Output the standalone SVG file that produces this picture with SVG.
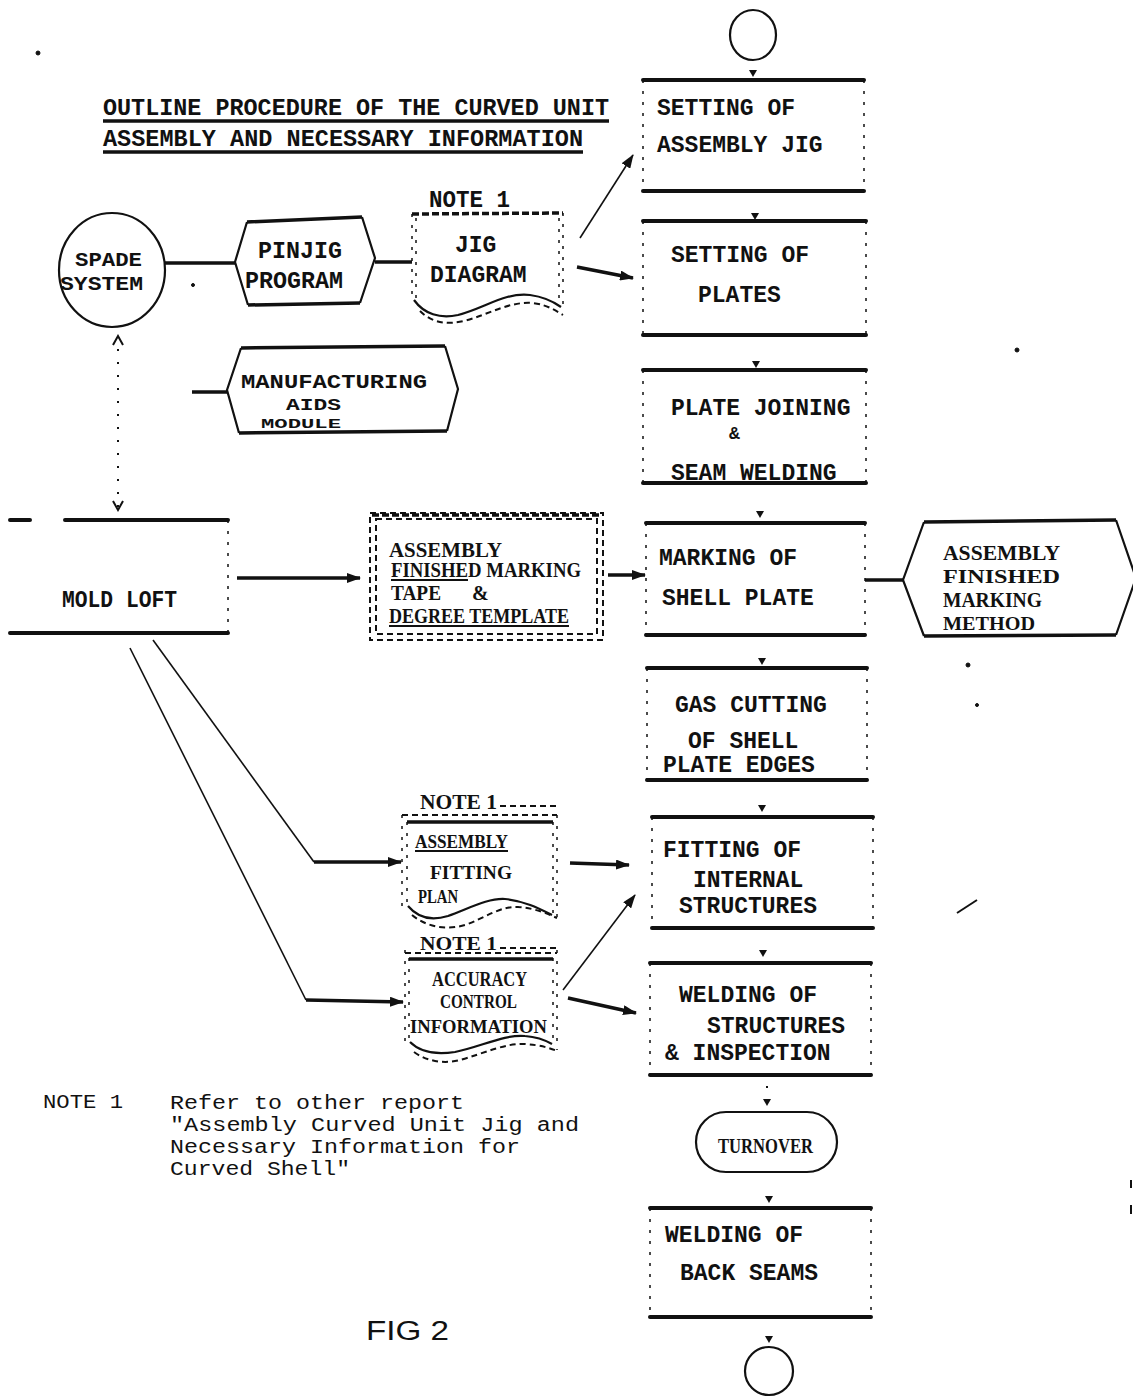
<svg xmlns="http://www.w3.org/2000/svg" width="1133" height="1397" viewBox="0 0 1133 1397">
<defs>
<style>
.tw{font-family:"Liberation Mono","Courier New",monospace;font-weight:bold;font-size:23px;fill:#111}
.sf{font-family:"Liberation Serif","Times New Roman",serif;font-weight:bold;font-size:20px;fill:#111}
.nt{font-family:"Liberation Mono","Courier New",monospace;font-size:20px;fill:#111}
.hw{font-family:"Liberation Sans",Arial,sans-serif;font-size:27px;fill:#111}
.hv{stroke:#111;stroke-width:4;fill:none;stroke-linecap:round}
.side{stroke:#111;stroke-width:1.5;fill:none;stroke-dasharray:3 8}
.thk{stroke:#111;stroke-width:3.5;fill:none}
.thn{stroke:#111;stroke-width:1.6;fill:none}
.med{stroke:#111;stroke-width:2.2;fill:none}
.dsh{stroke:#111;stroke-width:2;fill:none;stroke-dasharray:6 4}
.hdsh{stroke:#111;stroke-width:3.5;fill:none;stroke-dasharray:7 3}
.dot{stroke:#111;stroke-width:2;fill:none;stroke-dasharray:2 11}
.tick{fill:#111}
</style>
<marker id="ah" markerWidth="14" markerHeight="10" refX="13" refY="5" orient="auto" markerUnits="userSpaceOnUse"><path d="M0,0 L14,5 L0,10 z" fill="#111"/></marker>
<marker id="oh" markerWidth="12" markerHeight="12" refX="10" refY="6" orient="auto-start-reverse" markerUnits="userSpaceOnUse"><path d="M1,1 L10,6 L1,11" fill="none" stroke="#111" stroke-width="2"/></marker>
</defs>
<rect width="1133" height="1397" fill="#fff"/>

<g id="title">
<text class="tw" x="103" y="115" textLength="506" lengthAdjust="spacingAndGlyphs">OUTLINE PROCEDURE OF THE CURVED UNIT</text>
<text class="tw" x="103" y="146" textLength="480" lengthAdjust="spacingAndGlyphs">ASSEMBLY AND NECESSARY INFORMATION</text>
<line class="thk" x1="103" y1="121" x2="609" y2="121"/>
<line class="thk" x1="103" y1="152" x2="583" y2="152"/>
</g>

<g id="connectors">
<line class="thk" x1="165" y1="263" x2="235" y2="263"/>
<line class="thk" x1="375" y1="262" x2="412" y2="262"/>
<line class="thk" x1="192" y1="392" x2="227" y2="392"/>
<line class="thn" x1="580" y1="238" x2="633" y2="155" marker-end="url(#ah)"/>
<line class="thk" x1="577" y1="267" x2="633" y2="278" marker-end="url(#ah)"/>
<line class="dot" x1="118" y1="336" x2="118" y2="510" marker-start="url(#oh)" marker-end="url(#oh)"/>
<line class="thk" x1="237" y1="578" x2="360" y2="578" marker-end="url(#ah)"/>
<line class="thk" x1="608" y1="575" x2="645" y2="575" marker-end="url(#ah)"/>
<line class="thk" x1="865" y1="580" x2="903" y2="580"/>
<line class="thn" x1="153" y1="640" x2="314" y2="862"/>
<line class="thk" x1="314" y1="862" x2="401" y2="862" marker-end="url(#ah)"/>
<line class="thn" x1="130" y1="648" x2="306" y2="1000"/>
<line class="thk" x1="306" y1="1000" x2="403" y2="1002" marker-end="url(#ah)"/>
<line class="thk" x1="570" y1="863" x2="629" y2="865" marker-end="url(#ah)"/>
<line class="thn" x1="563" y1="990" x2="635" y2="895" marker-end="url(#ah)"/>
<line class="thk" x1="568" y1="998" x2="636" y2="1013" marker-end="url(#ah)"/>
<path class="tick" d="M749,70 h8 l-4,7 z"/>
<path class="tick" d="M751,213 h8 l-4,7 z"/>
<path class="tick" d="M752,361 h8 l-4,7 z"/>
<path class="tick" d="M756,511 h8 l-4,7 z"/>
<path class="tick" d="M758,658 h8 l-4,7 z"/>
<path class="tick" d="M758,805 h8 l-4,7 z"/>
<path class="tick" d="M759,950 h8 l-4,7 z"/>
<line class="dot" x1="767" y1="1086" x2="767" y2="1096"/>
<path class="tick" d="M763,1099 h8 l-4,7 z"/>
<path class="tick" d="M765,1196 h8 l-4,7 z"/>
<path class="tick" d="M765,1336 h8 l-4,7 z"/>
</g>

<g id="n-start">
<ellipse cx="753" cy="35" rx="23" ry="25" class="med"/>
</g>

<g id="n-setting-jig">
<line class="hv" x1="643" y1="80" x2="864" y2="80"/>
<line class="hv" x1="643" y1="191" x2="864" y2="191"/>
<path class="side" d="M643,80V191M864,80V191"/>
<text class="tw" x="657" y="115">SETTING OF</text>
<text class="tw" x="657" y="152">ASSEMBLY JIG</text>
</g>

<g id="n-setting-plates">
<line class="hv" x1="643" y1="221" x2="866" y2="221"/>
<line class="hv" x1="643" y1="335" x2="866" y2="335"/>
<path class="side" d="M643,221V335M866,221V335"/>
<text class="tw" x="671" y="262">SETTING OF</text>
<text class="tw" x="698" y="302">PLATES</text>
</g>

<g id="n-plate-joining">
<line class="hv" x1="643" y1="370" x2="866" y2="370"/>
<line class="hv" x1="643" y1="483" x2="866" y2="483"/>
<path class="side" d="M643,370V483M866,370V483"/>
<text class="tw" x="671" y="415">PLATE JOINING</text>
<text class="tw" x="729" y="439" style="font-size:18px">&amp;</text>
<text class="tw" x="671" y="480">SEAM WELDING</text>
</g>

<g id="n-marking">
<line class="hv" x1="646" y1="523" x2="865" y2="523"/>
<line class="hv" x1="646" y1="635" x2="865" y2="635"/>
<path class="side" d="M646,523V635M865,523V635"/>
<text class="tw" x="659" y="565">MARKING OF</text>
<text class="tw" x="662" y="605">SHELL PLATE</text>
</g>

<g id="n-gas-cutting">
<line class="hv" x1="647" y1="668" x2="867" y2="668"/>
<line class="hv" x1="647" y1="780" x2="867" y2="780"/>
<path class="side" d="M647,668V780M867,668V780"/>
<text class="tw" x="675" y="712">GAS CUTTING</text>
<text class="tw" x="688" y="748">OF SHELL</text>
<text class="tw" x="663" y="772">PLATE EDGES</text>
</g>

<g id="n-fitting">
<line class="hv" x1="652" y1="817" x2="873" y2="817"/>
<line class="hv" x1="652" y1="928" x2="873" y2="928"/>
<path class="side" d="M652,817V928M873,817V928"/>
<text class="tw" x="663" y="857">FITTING OF</text>
<text class="tw" x="693" y="887">INTERNAL</text>
<text class="tw" x="679" y="913">STRUCTURES</text>
</g>

<g id="n-welding-structures">
<line class="hv" x1="650" y1="963" x2="871" y2="963"/>
<line class="hv" x1="650" y1="1075" x2="871" y2="1075"/>
<path class="side" d="M650,963V1075M871,963V1075"/>
<text class="tw" x="679" y="1002">WELDING OF</text>
<text class="tw" x="707" y="1033">STRUCTURES</text>
<text class="tw" x="665" y="1060">&amp; INSPECTION</text>
</g>

<g id="n-turnover">
<rect x="696" y="1112" width="141" height="60" rx="30" class="med" stroke-width="3"/>
<text class="sf" x="718" y="1153" style="font-size:21px" textLength="95" lengthAdjust="spacingAndGlyphs">TURNOVER</text>
</g>

<g id="n-back-seams">
<line class="hv" x1="650" y1="1208" x2="871" y2="1208"/>
<line class="hv" x1="650" y1="1317" x2="871" y2="1317"/>
<path class="side" d="M650,1208V1317M871,1208V1317"/>
<text class="tw" x="665" y="1242">WELDING OF</text>
<text class="tw" x="680" y="1280">BACK SEAMS</text>
</g>

<g id="n-end">
<ellipse cx="769" cy="1371" rx="24" ry="24" class="med"/>
</g>

<g id="n-spade">
<ellipse cx="112" cy="270" rx="53" ry="57" class="med" stroke-width="2.6"/>
<text class="tw" x="75" y="266" style="font-size:20px" textLength="67" lengthAdjust="spacingAndGlyphs">SPADE</text>
<text class="tw" x="60" y="290" style="font-size:20px" textLength="83" lengthAdjust="spacingAndGlyphs">SYSTEM</text>
</g>

<g id="n-pinjig">
<path class="med" d="M247,222 L235,262 L248,305 M362,217 L375,258 L360,303"/>
<path class="thk" d="M247,222 L362,217 M248,305 L360,303"/>
<text class="tw" x="258" y="258" textLength="84" lengthAdjust="spacingAndGlyphs">PINJIG</text>
<text class="tw" x="245" y="288" textLength="98" lengthAdjust="spacingAndGlyphs">PROGRAM</text>
</g>

<g id="n-jig-diagram">
<text class="tw" x="429" y="207" textLength="81" lengthAdjust="spacingAndGlyphs">NOTE 1</text>
<line class="hdsh" x1="412" y1="214" x2="563" y2="213"/>
<path class="side" d="M412,214V302M416,218V300M559,218V306M563,213V308" stroke-dasharray="5 5" stroke-width="2"/>
<path class="med" stroke-width="3" d="M414,300 C424,314 440,319 458,315 C485,308 505,292 530,295 C545,297 554,302 561,307"/>
<path class="dsh" d="M420,311 C432,323 447,325 464,321 C490,314 510,301 533,303 C548,305 556,311 563,315"/>
<text class="tw" x="455" y="252">JIG</text>
<text class="tw" x="430" y="282">DIAGRAM</text>
</g>

<g id="n-manufacturing">
<path class="med" d="M241,348 L227,390 L239,433 M445,346 L458,389 L447,431"/>
<path class="thk" d="M241,348 L445,346 M239,433 L447,431"/>
<text class="tw" x="241" y="388" style="font-size:21px" textLength="186" lengthAdjust="spacingAndGlyphs">MANUFACTURING</text>
<text class="tw" x="286" y="410" style="font-size:17px" textLength="55" lengthAdjust="spacingAndGlyphs">AIDS</text>
<text class="tw" x="261" y="428" style="font-size:12px" textLength="80" lengthAdjust="spacingAndGlyphs">MODULE</text>
</g>

<g id="n-mold-loft">
<path class="hv" d="M10,520 H30 M65,520 H228 M10,633 H228"/>
<path class="side" d="M228,520V633" stroke-width="2" stroke-dasharray="8 6"/>
<text class="tw" x="62" y="607" textLength="115" lengthAdjust="spacingAndGlyphs">MOLD LOFT</text>
</g>

<g id="n-marking-tape">
<rect x="370" y="513" width="233" height="127" class="dsh"/>
<rect x="376" y="519" width="221" height="115" class="dsh" stroke-dasharray="3 6"/>
<line class="hdsh" x1="372" y1="515" x2="601" y2="515"/>
<text class="sf" x="389" y="557" textLength="113" lengthAdjust="spacingAndGlyphs">ASSEMBLY</text>
<text class="sf" x="391" y="577" textLength="190" lengthAdjust="spacingAndGlyphs">FINISHED MARKING</text>
<text class="sf" x="391" y="600" textLength="50" lengthAdjust="spacingAndGlyphs">TAPE</text>
<text class="sf" x="472" y="600">&amp;</text>
<text class="sf" x="389" y="623" textLength="180" lengthAdjust="spacingAndGlyphs">DEGREE TEMPLATE</text>
<path class="med" d="M391,580 H468 M389,626 H569"/>
</g>

<g id="n-marking-method">
<path class="med" d="M924,522 L903,580 L924,636 M1116,520 L1136,578 L1116,635"/>
<path class="thk" d="M924,522 L1116,520 M924,636 L1116,635"/>
<text class="sf" x="943" y="560" style="font-size:22px" textLength="117" lengthAdjust="spacingAndGlyphs">ASSEMBLY</text>
<text class="sf" x="943" y="583" style="font-size:19px" textLength="117" lengthAdjust="spacingAndGlyphs">FINISHED</text>
<text class="sf" x="943" y="607" style="font-size:21px" textLength="99" lengthAdjust="spacingAndGlyphs">MARKING</text>
<text class="sf" x="943" y="630" style="font-size:19px" textLength="92" lengthAdjust="spacingAndGlyphs">METHOD</text>
</g>

<g id="n-fitting-plan">
<text class="sf" x="420" y="809" style="font-size:20px" textLength="77" lengthAdjust="spacingAndGlyphs">NOTE 1</text>
<path class="dsh" d="M500,806 H557"/>
<line class="dsh" x1="402" y1="815" x2="557" y2="815"/>
<line class="thk" x1="407" y1="822" x2="553" y2="822"/>
<path class="side" d="M402,815V908M407,822V906M553,822V913M557,815V917" stroke-dasharray="5 5" stroke-width="2"/>
<path class="med" stroke-width="3" d="M408,906 C418,918 432,921 448,916 C470,908 488,898 505,899 C525,901 540,909 552,915"/>
<path class="dsh" d="M412,915 C428,928 448,930 465,925 C485,918 500,906 518,907 C535,908 548,914 557,918"/>
<text class="sf" x="415" y="848" style="font-size:19px" textLength="93" lengthAdjust="spacingAndGlyphs">ASSEMBLY</text>
<line class="med" x1="415" y1="851" x2="508" y2="851"/>
<text class="sf" x="430" y="879" style="font-size:19px" textLength="82" lengthAdjust="spacingAndGlyphs">FITTING</text>
<text class="sf" x="418" y="903" style="font-size:19px" textLength="40" lengthAdjust="spacingAndGlyphs">PLAN</text>
</g>

<g id="n-accuracy">
<text class="sf" x="420" y="950" style="font-size:19px" textLength="77" lengthAdjust="spacingAndGlyphs">NOTE 1</text>
<path class="dsh" d="M500,948 H557"/>
<line class="dsh" x1="405" y1="953" x2="557" y2="953"/>
<line class="thk" x1="409" y1="959" x2="553" y2="959"/>
<path class="side" d="M405,950V1043M409,958V1043M553,958V1043M557,950V1050" stroke-dasharray="5 5" stroke-width="2"/>
<path class="med" stroke-width="3" d="M410,1042 C420,1052 436,1055 455,1052 C480,1047 505,1034 525,1036 C538,1037 545,1040 552,1044"/>
<path class="dsh" d="M414,1052 C428,1062 445,1064 460,1060 C485,1053 505,1043 525,1044 C540,1045 550,1048 557,1051"/>
<text class="sf" x="432" y="986" style="font-size:20px" textLength="95" lengthAdjust="spacingAndGlyphs">ACCURACY</text>
<text class="sf" x="440" y="1008" style="font-size:19px" textLength="77" lengthAdjust="spacingAndGlyphs">CONTROL</text>
<text class="sf" x="410" y="1033" style="font-size:19px" textLength="137" lengthAdjust="spacingAndGlyphs">INFORMATION</text>
</g>

<g id="note">
<text class="nt" x="43" y="1108" textLength="80" lengthAdjust="spacingAndGlyphs">NOTE 1</text>
<text class="nt" x="170" y="1109" textLength="294" lengthAdjust="spacingAndGlyphs">Refer to other report</text>
<text class="nt" x="170" y="1131" textLength="409" lengthAdjust="spacingAndGlyphs">"Assembly Curved Unit Jig and</text>
<text class="nt" x="170" y="1153" textLength="350" lengthAdjust="spacingAndGlyphs">Necessary Information for</text>
<text class="nt" x="170" y="1175" textLength="180" lengthAdjust="spacingAndGlyphs">Curved Shell"</text>
</g>

<g id="fig-label">
<text class="hw" x="366" y="1340" textLength="83" lengthAdjust="spacingAndGlyphs">FIG 2</text>
</g>

<g id="specks" fill="#111" stroke="#111">
<circle cx="38" cy="53" r="2"/>
<circle cx="193" cy="285" r="1.5"/>
<circle cx="1017" cy="350" r="2"/>
<circle cx="968" cy="665" r="2"/>
<circle cx="977" cy="705" r="1.5"/>
<line x1="957" y1="913" x2="977" y2="900" stroke-width="2"/>
<line x1="1131" y1="1180" x2="1131" y2="1188" stroke-width="2"/>
<line x1="1131" y1="1205" x2="1131" y2="1214" stroke-width="2"/>
</g>
</svg>
